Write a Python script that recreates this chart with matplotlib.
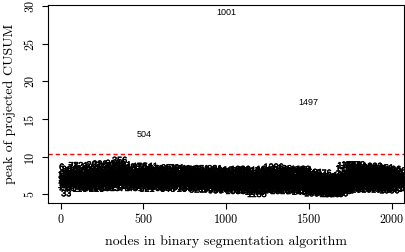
import numpy as np
import matplotlib
matplotlib.use('Agg')
import matplotlib.pyplot as plt
import matplotlib.patheffects as pe

# peak of projected CUSUM for nodes 1, 6, 11, ..., 2046
band_nodes = np.arange(1, 2047, 5)
band_peaks = [
    7.4, 8.6, 6.2, 7.1, 5.9, 7.8, 6.6, 8.3, 6.0, 7.3, 6.9, 8.1, 5.8, 7.6, 6.4, 8.5, 6.8, 6.1, 7.9, 7.2,
    6.3, 8.2, 7.0, 5.7, 8.8, 6.6, 7.5, 6.0, 8.4, 7.1, 5.9, 7.8, 6.9, 8.6, 6.2, 7.4, 5.8, 8.0, 7.2, 6.5,
    8.9, 6.1, 7.6, 5.7, 8.3, 7.0, 6.4, 9.0, 5.9, 7.7, 6.8, 8.5, 6.0, 7.3, 8.7, 6.5, 5.8, 8.1, 7.1, 6.3,
    7.2, 8.8, 6.3, 9.1, 5.9, 7.9, 6.7, 8.4, 6.1, 9.0, 7.4, 9.5, 6.5, 8.2, 5.8, 7.6, 8.9, 6.9, 6.2, 8.0,
    6.8, 8.5, 7.3, 5.9, 8.0, 6.4, 7.7, 8.6, 6.1, 7.1, 5.8, 8.3, 6.9, 7.5, 6.2, 8.7, 7.0, 6.0, 7.9, 6.6,
    7.8, 6.3, 8.6, 6.9, 5.7, 8.2, 7.4, 6.1, 8.7, 7.0, 6.5, 5.9, 8.0, 7.3, 6.7, 8.4, 6.0, 7.6, 6.8, 8.1,
    6.2, 7.7, 8.4, 5.8, 7.0, 6.6, 8.1, 6.3, 7.5, 5.7, 8.5, 6.9, 7.2, 6.0, 8.0, 7.4, 6.4, 8.3, 5.9, 7.1,
    8.5, 6.5, 7.3, 5.7, 8.2, 6.9, 7.8, 6.1, 8.4, 7.0, 5.8, 7.6, 6.4, 8.1, 6.8, 7.4, 5.9, 8.3, 6.6, 7.1,
    6.0, 8.3, 7.2, 6.5, 5.6, 7.8, 8.0, 6.3, 7.0, 5.8, 8.4, 6.8, 7.5, 6.1, 7.9, 5.7, 7.3, 8.2, 6.6, 6.9,
    7.7, 5.6, 8.1, 6.7, 7.2, 6.0, 8.4, 5.5, 7.5, 6.9, 7.9, 6.2, 8.2, 5.8, 7.1, 6.5, 8.0, 6.3, 7.4, 5.7,
    29.2, 6.4, 7.8, 5.6, 8.0, 6.9, 7.3, 5.9, 8.2, 6.2, 7.6, 5.4, 7.0, 8.1, 6.6, 5.8, 7.4, 8.3, 6.1, 7.1,
    7.9, 6.3, 5.5, 7.5, 8.2, 6.7, 5.9, 7.2, 6.0, 8.0, 5.6, 7.7, 6.5, 7.0, 5.3, 8.1, 6.8, 6.2, 7.4, 5.7,
    6.6, 8.1, 5.8, 7.3, 6.9, 5.5, 7.9, 6.2, 8.3, 7.0, 5.7, 7.6, 6.4, 8.0, 6.0, 7.2, 5.6, 8.6, 6.8, 7.5,
    7.1, 5.9, 8.2, 6.5, 7.7, 5.4, 6.9, 8.4, 6.1, 7.4, 5.6, 8.0, 6.7, 7.2, 5.8, 7.9, 6.3, 5.5, 8.1, 6.8,
    6.0, 7.8, 6.6, 8.3, 5.4, 7.1, 6.2, 8.0, 5.7, 7.5, 6.9, 5.3, 8.2, 6.4, 7.3, 5.9, 7.7, 6.1, 5.5, 7.0,
    7.6, 5.4, 6.8, 5.9, 7.9, 6.3, 5.1, 7.2, 6.6, 5.7, 7.5, 6.0, 5.3, 7.0, 6.4, 7.8, 5.5, 6.9, 6.1, 5.2,
    6.5, 5.3, 7.1, 5.8, 6.2, 5.0, 7.3, 6.0, 5.5, 6.8, 5.2, 6.4, 7.0, 5.6, 6.1, 5.1, 6.7, 5.9, 7.2, 5.4,
    6.3, 7.5, 5.5, 6.9, 8.4, 6.1, 8.8, 7.2, 5.8, 8.1, 6.6, 8.9, 7.4, 6.0, 8.5, 7.0, 5.7, 8.2, 6.4, 7.7,
    8.3, 6.2, 7.6, 5.6, 8.6, 6.8, 7.1, 5.9, 8.0, 6.5, 7.4, 8.5, 6.0, 7.8, 5.7, 8.2, 6.7, 7.3, 6.1, 7.9,
    6.9, 8.4, 5.8, 7.5, 6.3, 8.1, 7.0, 5.6, 7.8, 6.6, 8.5, 6.1, 7.2, 5.9, 8.0, 6.4, 7.6, 5.5, 7.1, 8.3,
    6.7, 7.9, 5.8, 7.3, 6.2, 8.1, 6.9, 5.7, 7.5, 6.4,
]

# nodes 3, 8, 13, ..., 2043: these sit in the dense core of the band
core_nodes = np.arange(3, 2047, 5)
core_peaks = [
    7.0, 6.5, 7.6, 6.8, 7.3, 6.4, 7.7, 6.9, 7.2, 6.6, 7.5, 6.7, 7.1, 6.3, 7.4, 6.9, 7.8, 6.5, 7.0, 7.3,
    6.8, 7.4, 6.4, 7.1, 7.7, 6.6, 7.2, 6.9, 7.5, 6.5, 7.0, 7.6, 6.7, 7.3, 6.4, 7.8, 6.9, 7.1, 6.6, 7.4,
    7.2, 6.7, 7.8, 6.5, 7.4, 7.0, 6.8, 7.6, 6.6, 7.3, 7.9, 6.9, 7.1, 6.4, 7.5, 7.0, 6.7, 7.7, 6.6, 7.2,
    7.5, 6.9, 7.9, 6.6, 7.3, 7.7, 6.8, 7.1, 8.0, 6.7, 7.4, 7.0, 7.8, 6.5, 7.2, 7.6, 6.9, 7.3, 6.8, 7.5,
    7.1, 6.6, 7.5, 6.9, 7.7, 6.4, 7.2, 7.0, 7.6, 6.7, 7.3, 6.5, 7.8, 6.8, 7.1, 7.4, 6.6, 7.0, 7.5, 6.9,
    6.9, 7.4, 6.5, 7.2, 7.7, 6.7, 7.0, 7.5, 6.4, 7.3, 6.8, 7.6, 7.1, 6.6, 7.4, 6.9, 7.2, 6.5, 7.7, 7.0,
    7.0, 6.6, 7.5, 6.8, 7.3, 6.4, 7.6, 7.1, 6.7, 7.4, 6.5, 7.2, 6.9, 7.7, 6.6, 7.0, 7.3, 6.8, 7.5, 6.5,
    6.8, 7.3, 6.5, 7.1, 6.7, 7.5, 6.9, 7.2, 6.4, 7.6, 7.0, 6.6, 7.4, 6.8, 7.1, 6.3, 7.3, 6.9, 7.5, 6.7,
    6.9, 6.4, 7.2, 6.7, 7.5, 6.5, 7.0, 6.8, 7.3, 6.3, 7.4, 6.6, 7.1, 6.9, 6.4, 7.2, 6.7, 7.5, 6.5, 7.0,
    6.7, 7.2, 6.4, 7.0, 6.6, 7.4, 6.8, 6.3, 7.1, 6.9, 6.5, 7.3, 6.7, 7.0, 6.4, 7.2, 6.6, 6.9, 7.4, 6.5,
    6.8, 7.1, 6.4, 7.3, 6.6, 6.9, 7.2, 6.3, 7.0, 6.7, 7.4, 6.5, 6.9, 7.1, 6.4, 7.2, 6.8, 6.6, 7.3, 6.7,
    6.6, 7.0, 6.3, 6.8, 7.2, 6.5, 6.9, 6.2, 7.1, 6.7, 6.4, 7.3, 6.6, 6.9, 6.3, 7.0, 6.8, 6.5, 7.2, 6.6,
    6.9, 6.5, 7.2, 6.7, 7.4, 6.4, 7.0, 6.8, 7.3, 6.6, 7.1, 6.3, 7.5, 6.9, 6.5, 7.2, 6.7, 7.0, 6.4, 7.3,
    6.8, 7.2, 6.5, 7.0, 6.6, 7.3, 6.9, 6.4, 7.1, 6.7, 7.4, 6.5, 6.9, 7.2, 6.3, 7.0, 6.8, 6.6, 7.1, 6.5,
    6.7, 6.3, 7.0, 6.5, 6.9, 6.2, 7.1, 6.6, 6.8, 6.4, 7.0, 6.1, 6.7, 6.5, 6.9, 6.3, 6.6, 6.0, 6.8, 6.4,
    6.2, 6.6, 5.9, 6.4, 6.0, 6.7, 6.3, 5.8, 6.5, 6.1, 6.8, 5.9, 6.4, 6.2, 5.7, 6.6, 6.0, 6.3, 5.8, 6.5,
    6.0, 5.7, 6.4, 5.9, 6.2, 5.6, 6.5, 6.1, 5.8, 6.3, 5.7, 6.0, 6.4, 5.9, 6.2, 5.6, 6.1, 5.8, 6.3, 6.0,
    5.9, 6.2, 6.0, 6.5, 7.3, 7.0, 7.6, 6.8, 7.4, 7.1, 6.7, 7.8, 7.2, 6.9, 7.5, 7.0, 6.6, 7.7, 7.1, 6.8,
    7.3, 6.8, 7.6, 6.6, 7.4, 7.0, 7.8, 6.7, 7.2, 6.9, 7.5, 6.5, 7.1, 7.7, 6.8, 7.3, 6.6, 7.4, 7.0, 6.9,
    7.1, 7.5, 6.7, 7.2, 6.9, 7.6, 6.6, 7.0, 7.4, 6.8, 7.3, 6.5, 7.1, 6.9, 7.5, 6.7, 7.2, 6.6, 7.0, 7.4,
    6.9, 7.3, 6.6, 7.1, 6.8, 7.4, 6.5, 7.0, 7.2,
]

# nodes whose labels can be read on the picture
extra_nodes = [33, 77, 504, 1185, 1448, 1497, 1558, 1649, 1779, 1883]
extra_peaks = [5.1, 8.8, 12.9, 5.0, 8.3, 17.2, 7.3, 5.0, 8.9, 8.7]

prag = 10.4  # linia rosie punctata

noduri = np.concatenate([band_nodes, core_nodes, extra_nodes])
valori = np.concatenate([band_peaks, core_peaks, extra_peaks])
ordine = np.argsort(noduri, kind='stable')
noduri = noduri[ordine]
valori = valori[ordine]

fig = plt.figure(figsize=(4.05, 2.52), dpi=100)
ax = fig.add_axes([0.1173, 0.1956, 0.879, 0.7845])

# in original sunt ~2000 etichete suprapuse; ingrosam putin textul din banda ca sa arate la fel de negru
gros = [pe.withStroke(linewidth=0.4, foreground='black')]
for n, v in zip(noduri, valori):
    ax.text(n, v, str(n), fontsize=6.5, ha='center', va='center', family='Liberation Sans', color='black',
            path_effects=gros if v < prag else None)

ax.axhline(prag, color='red', linestyle=(0, (3, 2.2)), linewidth=1.0)

ax.set_xlim(-80, 2071)
ax.set_ylim(3.91, 30.13)
ax.set_xticks([0, 500, 1000, 1500, 2000])
ax.set_xticklabels(['0', '500', '1000', '1500', '2000'], fontfamily='cmr10', fontsize=8.7)
ax.set_yticks([5, 10, 15, 20, 25, 30])
ax.set_yticklabels(['5', '10', '15', '20', '25', '30'], fontfamily='cmr10', fontsize=8.7, rotation=90, va='center')
ax.tick_params(length=4, width=0.8, pad=4)
ax.set_xlabel('nodes in binary segmentation algorithm', fontfamily='cmr10', fontsize=10, labelpad=7)
ax.set_ylabel('peak of projected CUSUM', fontfamily='cmr10', fontsize=10, labelpad=6)
for s in ax.spines.values():
    s.set_linewidth(0.8)

fig.savefig('out.png', dpi=100)
